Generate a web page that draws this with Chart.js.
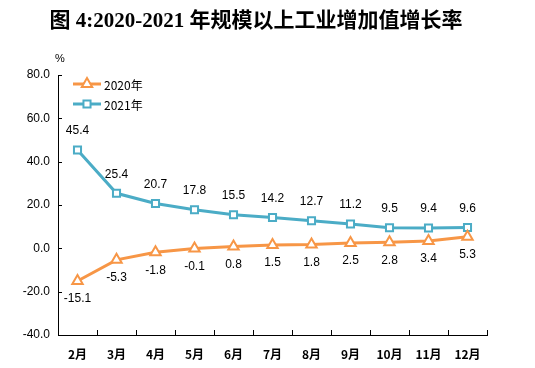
<!DOCTYPE html>
<html><head><meta charset="utf-8">
<script src="https://cdn.jsdelivr.net/npm/chart.js@4"></script>
<style>html,body{margin:0;padding:0;background:#fff}#w{width:535px;height:368px}</style>
</head><body><div id="w"><canvas id="c"></canvas></div>
<script>
const categories = ['2月','3月','4月','5月','6月','7月','8月','9月','10月','11月','12月'];
const series2020 = [-15.1,-5.3,-1.8,-0.1,0.8,1.5,1.8,2.5,2.8,3.4,5.3];
const series2021 = [45.4,25.4,20.7,17.8,15.5,14.2,12.7,11.2,9.5,9.4,9.6];
const yTicks = [-40,-20,0,20,40,60,80];
const title = '图 4:2020-2021 年规模以上工业增加值增长率';
const ORANGE = '#F79646', BLUE = '#4BACC6';

const deco = {
  id:'deco',
  afterDraw(chart){
    const ctx = chart.ctx, x = chart.scales.x, y = chart.scales.y, a = chart.chartArea;
    ctx.save();
    // title
    ctx.fillStyle='#000';
    ctx.font='bold 21px "Liberation Serif","Noto Sans CJK SC"';
    ctx.textAlign='center'; ctx.textBaseline='middle';
    ctx.fillText(title, 256, 22);
    // percent
    ctx.font='11px "Liberation Sans"';
    ctx.fillText('%', 60, 59);
    // y tick labels
    ctx.font='12px "Liberation Sans"'; ctx.textAlign='right';
    yTicks.forEach(v=>ctx.fillText(v.toFixed(1), a.left-8, y.getPixelForValue(v)));
    ctx.textAlign='center';
    // inside ticks
    ctx.strokeStyle='#000'; ctx.lineWidth=1;
    ctx.beginPath();
    yTicks.forEach(v=>{const py=Math.round(y.getPixelForValue(v))+0.5; ctx.moveTo(a.left,py); ctx.lineTo(a.left+4,py);});
    for(let i=0;i<=categories.length;i++){
      let px;
      if(i===0) px=a.left; else if(i===categories.length) px=a.right;
      else px=(x.getPixelForValue(i-1)+x.getPixelForValue(i))/2;
      px=Math.round(px)+0.5;
      ctx.moveTo(px,a.bottom); ctx.lineTo(px,a.bottom-5);
    }
    ctx.stroke();
    // data labels
    ctx.font='12px "Liberation Sans"'; ctx.fillStyle='#000';
    chart.data.datasets.forEach((ds,di)=>{
      const meta=chart.getDatasetMeta(di);
      meta.data.forEach((pt,i)=>{
        const off = di===1 ? -19 : 18;
        ctx.fillText(ds.data[i].toFixed(1), pt.x, pt.y+off);
      });
    });
    // legend
    chart.data.datasets.forEach((ds,di)=>{
      const ly = 84 + di*20;
      ctx.strokeStyle=ds.borderColor; ctx.lineWidth=3;
      ctx.beginPath(); ctx.moveTo(73,ly); ctx.lineTo(101,ly); ctx.stroke();
      ctx.lineWidth=2; ctx.fillStyle='#fff'; ctx.strokeStyle=ds.borderColor;
      Chart.helpers.drawPoint(ctx,{pointStyle:ds.pointStyle,rotation:0,radius:ds.pointRadius,borderWidth:2},87,ly);
      ctx.fillStyle='#000';
      ctx.font='12px "Noto Sans CJK SC"';
      ctx.textAlign='left';
      ctx.fillText(ds.label,104,ly+1);
    });
    ctx.restore();
  }
};

new Chart(document.getElementById('c'),{
  type:'line',
  data:{labels:categories,datasets:[
    {label:'2020年',data:series2020,borderColor:ORANGE,backgroundColor:'#fff',borderWidth:3,pointStyle:'triangle',pointRadius:6,pointBorderWidth:2,pointBackgroundColor:'#fff',pointBorderColor:ORANGE},
    {label:'2021年',data:series2021,borderColor:BLUE,backgroundColor:'#fff',borderWidth:3,pointStyle:'rect',pointRadius:5,pointBorderWidth:2,pointBackgroundColor:'#fff',pointBorderColor:BLUE}
  ]},
  options:{
    responsive:true,maintainAspectRatio:false,animation:false,
    layout:{padding:{top:75,right:48,left:0,bottom:0}},
    plugins:{legend:{display:false},title:{display:false},tooltip:{enabled:false}},
    scales:{
      x:{offset:true,grid:{display:false},border:{display:true,color:'#000',width:1},
         ticks:{color:'#000',font:{family:'"Noto Sans CJK SC"',size:12,weight:'bold'},padding:4,maxRotation:0},
         afterFit(s){s.height=33;}},
      y:{min:-40,max:80,grid:{display:false},border:{display:true,color:'#000',width:1},
         afterBuildTicks(s){s.ticks=yTicks.map(v=>({value:v}));},
         ticks:{display:false},
         afterFit(s){s.width=58;}}
    }
  },
  plugins:[deco]
});
</script></body></html>
